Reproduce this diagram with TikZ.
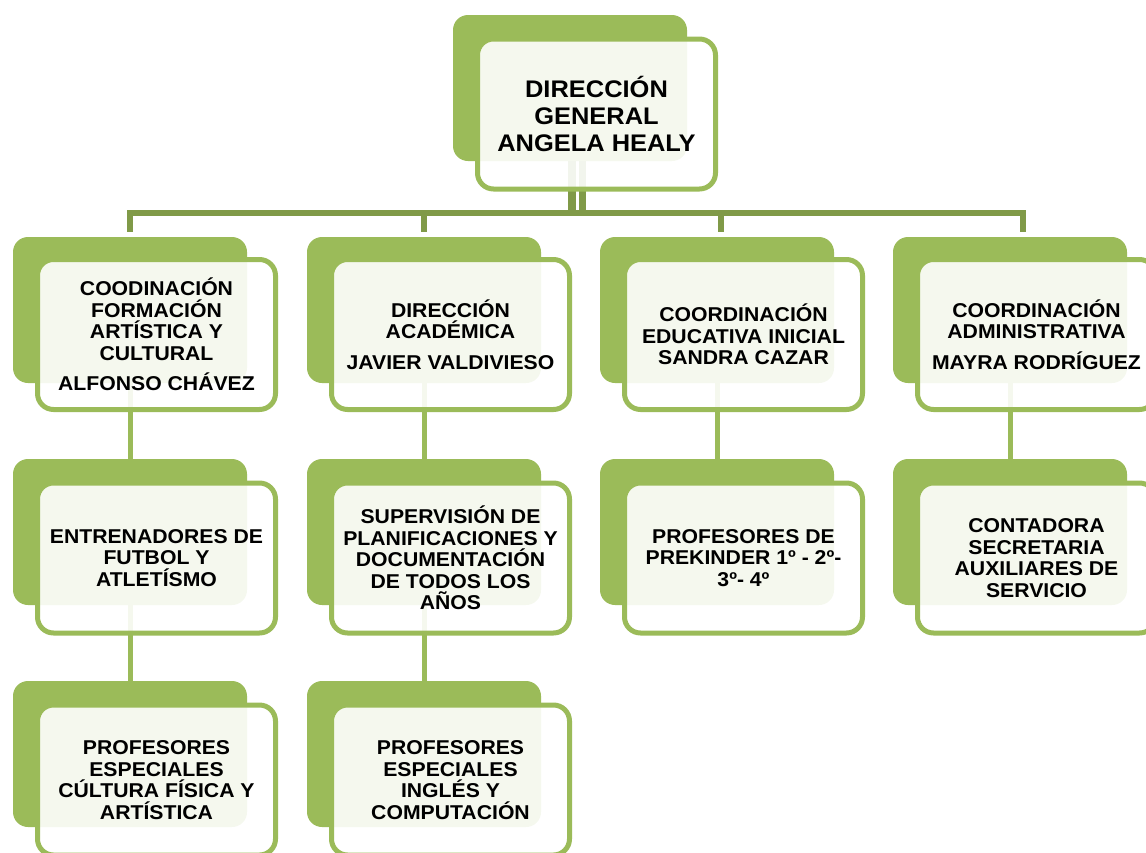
\documentclass[tikz,border=0pt]{standalone}
\usepackage{fontspec}
\setmainfont{Liberation Sans}[FakeStretch=1.06]
\definecolor{boxgreen}{HTML}{9BBB59}
\definecolor{busgreen}{HTML}{809A48}

\begin{document}
\begin{tikzpicture}[x=1pt,y=1pt,
  back/.style={fill=boxgreen,rounded corners=15pt,minimum width=234pt,minimum height=146pt,inner sep=0pt},
  front/.style={draw=boxgreen,line width=5pt,fill=white,fill opacity=0.9,text opacity=1,rounded corners=16pt,
    minimum width=238pt,minimum height=150pt,inner sep=0pt,align=center,font={\bfseries\fontsize{20}{21.5}\selectfont}},
  link/.style={draw=boxgreen,line width=5pt},
  bus/.style={draw=busgreen,line width=6pt}]
\clip (0,0) rectangle (1146,-852);
\coordinate (bus) at (576,-213);
\node[back] (dgb) at (570,-88) {};
\node[back] (cfab) at (130,-310) {};
\node[back] (dacb) at (424,-310) {};
\node[back] (ceib) at (717,-310) {};
\node[back] (cadb) at (1010,-310) {};
\node[back] (entb) at (130,-532) {};
\node[back] (supb) at (424,-532) {};
\node[back] (preb) at (717,-532) {};
\node[back] (conb) at (1010,-532) {};
\node[back] (pcfb) at (130,-754) {};
\node[back] (picb) at (424,-754) {};
\draw[bus,line width=8pt] ([xshift=2pt]dgb.south) -- ([xshift=2pt]dgb.south |- bus);
\draw[bus,line width=7pt] ([xshift=12pt]dgb.south) -- ([xshift=12pt]dgb.south |- bus);
\draw[bus] ([yshift=5pt]cfab.north) |- ([xshift=13pt]cadb.north |- bus) -- ([xshift=13pt,yshift=5pt]cadb.north);
\draw[bus] (dacb.north |- bus) -- ([yshift=5pt]dacb.north);
\draw[bus] ([xshift=4pt]ceib.north |- bus) -- ([xshift=4pt,yshift=5pt]ceib.north);
\draw[link] (cfab.south) -- (entb.north);
\draw[link] (entb.south) -- (pcfb.north);
\draw[link] (dacb.south) -- (supb.north);
\draw[link] (supb.south) -- (picb.north);
\draw[link] (ceib.south) -- (preb.north);
\draw[link] (cadb.south) -- (conb.north);
\node[front,font={\bfseries\fontsize{24}{27}\selectfont}] (dg) at (596.5,-114) {DIRECCIÓN\\GENERAL\\ANGELA HEALY};
\node[front] (cfa) at (156.5,-334.5) {COODINACIÓN\\FORMACIÓN\\ARTÍSTICA Y\\CULTURAL\\[9pt]ALFONSO CHÁVEZ};
\node[front] (dac) at (450.5,-334.5) {DIRECCIÓN\\ACADÉMICA\\[9pt]JAVIER VALDIVIESO};
\node[front] (cei) at (743.5,-334.5) {COORDINACIÓN\\EDUCATIVA INICIAL\\SANDRA CAZAR};
\node[front] (cad) at (1036.5,-334.5) {COORDINACIÓN\\ADMINISTRATIVA\\[9pt]MAYRA RODRÍGUEZ};
\node[front] (ent) at (156.5,-558) {ENTRENADORES DE\\FUTBOL Y\\ATLETÍSMO};
\node[front] (sup) at (450.5,-558) {SUPERVISIÓN DE\\PLANIFICACIONES Y\\DOCUMENTACIÓN\\DE TODOS LOS\\AÑOS};
\node[front] (pre) at (743.5,-558) {PROFESORES DE\\PREKINDER 1º - 2º-\\3º- 4º};
\node[front] (con) at (1036.5,-558) {CONTADORA\\SECRETARIA\\AUXILIARES DE\\SERVICIO};
\node[front] (pcf) at (156.5,-780) {PROFESORES\\ESPECIALES\\CÚLTURA FÍSICA Y\\ARTÍSTICA};
\node[front] (pic) at (450.5,-780) {PROFESORES\\ESPECIALES\\INGLÉS Y\\COMPUTACIÓN};
\end{tikzpicture}
\end{document}
